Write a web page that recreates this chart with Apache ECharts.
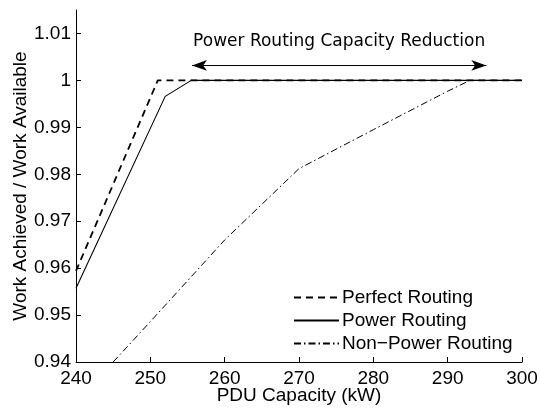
<!DOCTYPE html>
<html>
<head>
<meta charset="utf-8">
<script src="https://cdn.jsdelivr.net/npm/echarts@6/dist/echarts.min.js"></script>
<style>html,body{margin:0;padding:0;background:#fff;}#c{width:540px;height:408px;}</style>
</head>
<body>
<div id="c"></div>
<script>
const xTicks = [240, 250, 260, 270, 280, 290, 300];
const yTicks = [0.94, 0.95, 0.96, 0.97, 0.98, 0.99, 1.00, 1.01];
const perfectX = [240, 251, 300];
const perfectY = [0.9594, 1.0, 1.0];
const powerX = [240, 252, 255.5, 300];
const powerY = [0.9557, 0.9966, 1.0, 1.0];
const nonPowerX = [245, 250, 260, 270, 280, 290, 293, 300];
const nonPowerY = [0.94, 0.9486, 0.966, 0.9812, 0.9895, 0.9977, 1.0, 1.0];
const seriesNames = ['Perfect Routing', 'Power Routing', 'Non\u2212Power Routing'];
const arrowX = [255.6, 295.2];
const arrowY = 1.0032;
const arrowText = 'Power Routing Capacity Reduction';

const zip = (xs, ys) => xs.map((x, i) => [x, ys[i]]);
const chart = echarts.init(document.getElementById('c'), null, {renderer: 'canvas'});
const labelFont = {fontFamily: 'Liberation Sans', fontSize: 19, color: '#000'};
chart.setOption({
  animation: false,
  backgroundColor: '#fff',
  color: ['#000', '#000', '#000'],
  grid: {left: 76, right: 18, top: 10, bottom: 46, containLabel: false, outerBoundsMode: 'none'},
  legend: {
    orient: 'vertical', left: 288, top: 283, itemWidth: 45, itemHeight: 10, itemGap: 4,
    itemStyle: {opacity: 0},
    textStyle: {fontFamily: 'Liberation Sans', fontSize: 19, color: '#000', padding: [0,0,0,-2]},
    data: seriesNames
  },
  xAxis: {
    type: 'value', min: 240, max: 300, interval: 10,
    name: 'PDU Capacity (kW)', nameLocation: 'middle', nameGap: 24, nameMoveOverlap: false,
    nameTextStyle: labelFont,
    axisLine: {lineStyle: {color: '#000', width: 1}},
    axisTick: {inside: true, length: 5, lineStyle: {color: '#000'}},
    axisLabel: Object.assign({margin: 7, formatter: v => String(v)}, labelFont),
    splitLine: {show: false}
  },
  yAxis: {
    type: 'value', min: 0.94, max: 1.015, interval: 0.01,
    name: 'Work Achieved / Work Available', nameLocation: 'middle', nameGap: 46, nameMoveOverlap: false,
    nameTextStyle: labelFont,
    axisLine: {lineStyle: {color: '#000', width: 1}},
    axisTick: {inside: true, length: 5, lineStyle: {color: '#000'}, customValues: yTicks},
    axisLabel: Object.assign({margin: 5, customValues: yTicks,
      formatter: v => String(Number(v.toFixed(2)))}, labelFont),
    splitLine: {show: false}
  },
  series: [
    {name: seriesNames[0], type: 'line', symbol: 'none', data: zip(perfectX, perfectY),
     itemStyle: {color: '#000'},
     lineStyle: {color: '#000', width: 1.8, type: [7, 5]},
     markLine: {
       silent: true, symbol: ['arrow', 'arrow'], symbolSize: [8, 15],
       lineStyle: {color: '#000', width: 1, type: 'solid'},
       label: {show: true, position: 'middle', formatter: arrowText, distance: 15,
               fontFamily: 'DejaVu Sans', fontSize: 17, color: '#000'},
       data: [[{coord: [arrowX[0], arrowY]}, {coord: [arrowX[1], arrowY]}]]
     }},
    {name: seriesNames[1], type: 'line', symbol: 'none', data: zip(powerX, powerY),
     itemStyle: {color: '#000'},
     lineStyle: {color: '#000', width: 1.1, type: 'solid'}},
    {name: seriesNames[2], type: 'line', symbol: 'none', data: zip(nonPowerX, nonPowerY),
     itemStyle: {color: '#000'},
     lineStyle: {color: '#000', width: 1, type: [7, 3, 1.5, 3]}}
  ]
});
</script>
</body>
</html>
